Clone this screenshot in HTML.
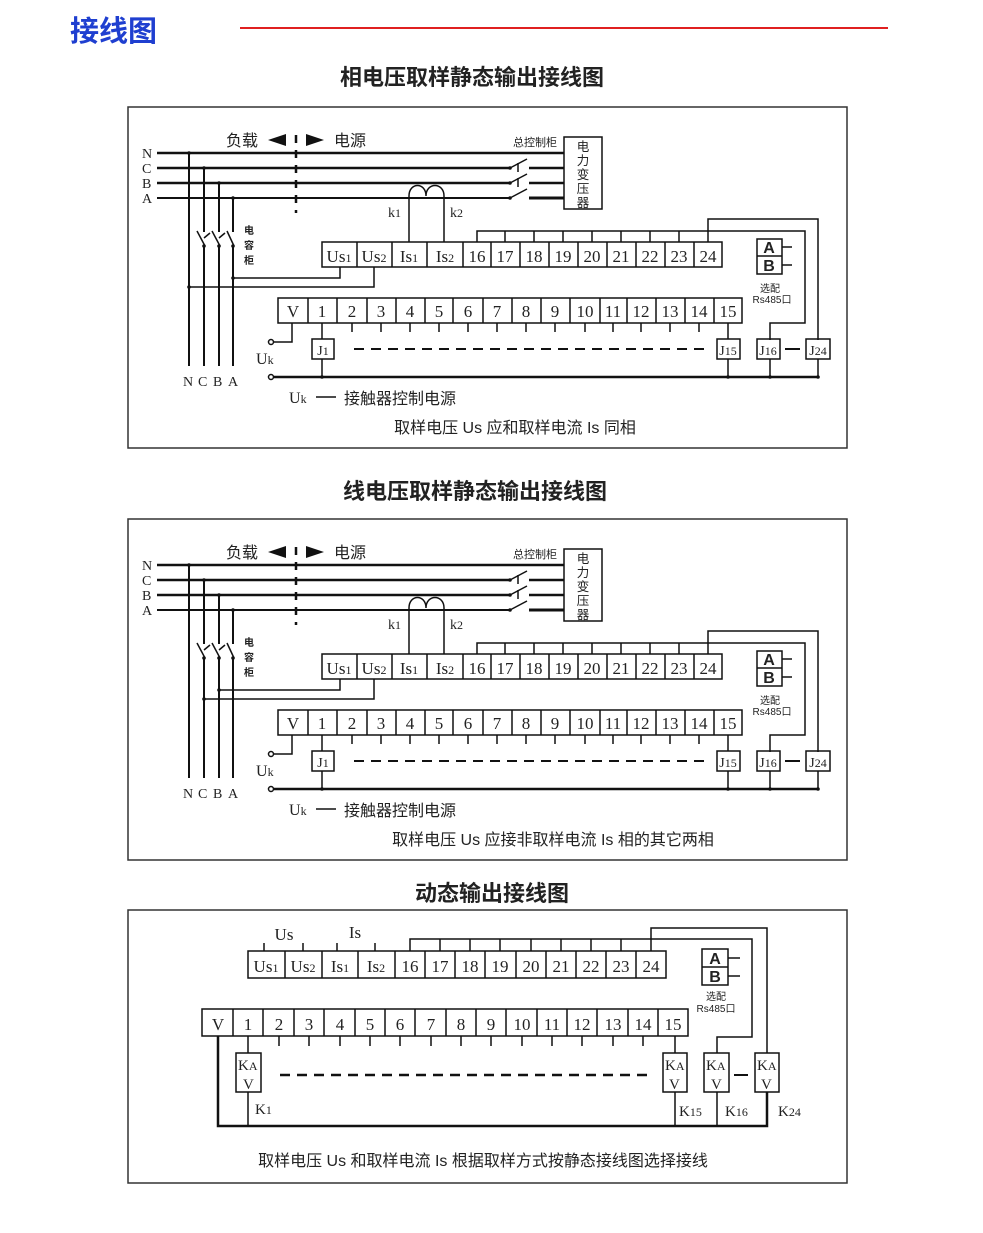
<!DOCTYPE html>
<html><head><meta charset="utf-8"><style>
html,body{margin:0;padding:0;background:#fff;}
svg{display:block;}
.s{font-family:"Liberation Serif","Noto Serif CJK SC",serif;font-size:17px;fill:#222;}
.c{font-family:"Liberation Sans","Noto Sans CJK SC",sans-serif;fill:#222;}
.sub{font-size:12px;}
</style></head><body>
<svg width="983" height="1233" viewBox="0 0 983 1233" xmlns="http://www.w3.org/2000/svg">
<text x="70" y="41" class="c" style="font-size:29px;font-weight:bold;fill:#1f3fd0">接线图</text>
<line x1="240" y1="28" x2="888" y2="28" stroke="#e02020" stroke-width="2"/>

<text x="472" y="85" text-anchor="middle" class="c" style="font-size:22px;font-weight:bold">相电压取样静态输出接线图</text>
<text x="475" y="499" text-anchor="middle" class="c" style="font-size:22px;font-weight:bold">线电压取样静态输出接线图</text>
<text x="492" y="901" text-anchor="middle" class="c" style="font-size:22px;font-weight:bold">动态输出接线图</text>

<rect x="128" y="107" width="719" height="341" fill="none" stroke="#333" stroke-width="1.5"/>
<rect x="128" y="519" width="719" height="341" fill="none" stroke="#333" stroke-width="1.5"/>
<rect x="128" y="910" width="719" height="273" fill="none" stroke="#333" stroke-width="1.5"/>

<!-- PANEL 1 & 2 shared via duplication -->
<g id="p1">
<g stroke="#111" fill="none">
<line x1="157" y1="153" x2="564" y2="153" stroke-width="2.5"/>
<line x1="157" y1="168" x2="510" y2="168" stroke-width="2.5"/>
<line x1="157" y1="183" x2="510" y2="183" stroke-width="2.5"/>
<line x1="157" y1="198" x2="510" y2="198" stroke-width="2"/>
<line x1="510" y1="168" x2="527" y2="159" stroke-width="1.5"/>
<line x1="518" y1="163" x2="518" y2="172" stroke-width="1.5"/>
<line x1="510" y1="183" x2="527" y2="174" stroke-width="1.5"/>
<line x1="518" y1="178" x2="518" y2="187" stroke-width="1.5"/>
<line x1="510" y1="198" x2="527" y2="189" stroke-width="1.5"/>
<line x1="529" y1="168" x2="564" y2="168" stroke-width="2.5"/>
<line x1="529" y1="183" x2="564" y2="183" stroke-width="2.5"/>
<line x1="529" y1="198" x2="564" y2="198" stroke-width="3"/>
<rect x="564" y="137" width="38" height="72" stroke-width="1.5"/>
<line x1="296" y1="135" x2="296" y2="213" stroke-width="2.5" stroke-dasharray="8,7"/>
<!-- drops -->
<line x1="189" y1="153" x2="189" y2="366" stroke-width="2"/>
<line x1="204" y1="168" x2="204" y2="232" stroke-width="2"/>
<line x1="219" y1="183" x2="219" y2="232" stroke-width="2"/>
<line x1="233" y1="198" x2="233" y2="232" stroke-width="2"/>
<line x1="197" y1="231" x2="205" y2="246" stroke-width="1.5"/>
<line x1="204" y1="238" x2="210" y2="233" stroke-width="1.5"/>
<line x1="212" y1="231" x2="220" y2="246" stroke-width="1.5"/>
<line x1="219" y1="238" x2="225" y2="233" stroke-width="1.5"/>
<line x1="227" y1="231" x2="234" y2="246" stroke-width="1.5"/>
<line x1="204" y1="246" x2="204" y2="366" stroke-width="2"/>
<line x1="219" y1="246" x2="219" y2="366" stroke-width="2"/>
<line x1="233" y1="246" x2="233" y2="366" stroke-width="2"/>
<!-- CT -->
<path d="M409,242 V196 C409,182 426,182 426,196 C426,182 444,182 444,196 V242" stroke-width="1.5"/>
<!-- top row -->
<rect x="322" y="242" width="400" height="25" stroke-width="1.5"/>
<path d="M357,242V267M392,242V267M427,242V267M463,242V267M491,242V267M520,242V267M549,242V267M578,242V267M607,242V267M636,242V267M665,242V267M694,242V267" stroke-width="1.5"/>
<!-- bus -->
<path d="M477,242V231H805V323H770V340" stroke-width="1.5"/>
<path d="M505,231V242M534,231V242M563,231V242M592,231V242M621,231V242M650,231V242M679,231V242" stroke-width="1.5"/>
<path d="M708,242V219H818V340" stroke-width="1.5"/>
<!-- AB -->
<rect x="757" y="239" width="25" height="35" stroke-width="1.5"/>
<line x1="757" y1="256" x2="782" y2="256" stroke-width="1.5"/>
<line x1="782" y1="247" x2="792" y2="247" stroke-width="1.5"/>
<line x1="782" y1="265" x2="792" y2="265" stroke-width="1.5"/>
<!-- bottom row -->
<rect x="278" y="298" width="464" height="25" stroke-width="1.5"/>
<path d="M308,298V323M337,298V323M367,298V323M396,298V323M425,298V323M453,298V323M483,298V323M512,298V323M541,298V323M570,298V323M600,298V323M627,298V323M656,298V323M685,298V323M714,298V323" stroke-width="1.5"/>
<path d="M352,323V332M381,323V332M410,323V332M439,323V332M468,323V332M497,323V332M526,323V332M555,323V332M585,323V332M613,323V332M641,323V332M670,323V332M699,323V332" stroke-width="1.5"/>
<path d="M292,323V342H273" stroke-width="1.5"/>
<circle cx="271" cy="342" r="2.5" stroke-width="1.5"/>
<circle cx="271" cy="377" r="2.5" stroke-width="1.5"/>
<line x1="274" y1="377" x2="819" y2="377" stroke-width="2.5"/>
<path d="M322,323V339M322,359V377M728,323V339M728,359V377M770,359V377M818,359V377" stroke-width="1.5"/>
<rect x="312" y="339" width="22" height="20" stroke-width="1.5"/>
<rect x="717" y="339" width="23" height="20" stroke-width="1.5"/>
<rect x="757" y="339" width="23" height="20" stroke-width="1.5"/>
<rect x="806" y="339" width="24" height="20" stroke-width="1.5"/>
<line x1="785" y1="349" x2="800" y2="349" stroke-width="2"/>
<line x1="354" y1="349" x2="705" y2="349" stroke-width="2" stroke-dasharray="10,7"/>
</g>
<g fill="#111">
<circle cx="189" cy="153" r="1.8"/><circle cx="204" cy="168" r="1.8"/><circle cx="219" cy="183" r="1.8"/><circle cx="233" cy="198" r="1.8"/>
<circle cx="204" cy="246" r="1.8"/><circle cx="219" cy="246" r="1.8"/><circle cx="233" cy="246" r="1.8"/>
<circle cx="510" cy="168" r="1.8"/><circle cx="510" cy="183" r="1.8"/><circle cx="510" cy="198" r="1.8"/>
<circle cx="322" cy="377" r="1.8"/><circle cx="728" cy="377" r="1.8"/><circle cx="770" cy="377" r="1.8"/><circle cx="818" cy="377" r="1.8"/>
<path d="M268,140 L286,134 L286,146Z"/><path d="M306,134 L324,140 L306,146Z"/>
</g>
<g class="s" style="font-size:14px">
<text x="142" y="158">N</text><text x="142" y="173">C</text><text x="142" y="188">B</text><text x="142" y="203">A</text>
<text x="183" y="386">N</text><text x="198" y="386">C</text><text x="213" y="386">B</text><text x="228" y="386">A</text>
<text x="388" y="217">k<tspan class="sub">1</tspan></text><text x="450" y="217">k<tspan class="sub">2</tspan></text>
</g>
<text x="226" y="146" class="c" style="font-size:16px">负载</text>
<text x="334" y="146" class="c" style="font-size:16px">电源</text>
<text x="513" y="146" class="c" style="font-size:11px">总控制柜</text>
<g class="c" style="font-size:12.5px" text-anchor="middle">
<text x="583" y="151">电</text><text x="583" y="165">力</text><text x="583" y="179">变</text><text x="583" y="193">压</text><text x="583" y="207">器</text>
</g>
<g class="c" style="font-size:10px;font-weight:bold" text-anchor="middle">
<text x="249" y="234">电</text><text x="249" y="249">容</text><text x="249" y="264">柜</text>
</g>
<g class="s" text-anchor="middle">
<text x="339" y="262">Us<tspan class="sub">1</tspan></text><text x="374" y="262">Us<tspan class="sub">2</tspan></text>
<text x="409" y="262">Is<tspan class="sub">1</tspan></text><text x="445" y="262">Is<tspan class="sub">2</tspan></text>
<text x="477" y="262">16</text><text x="505" y="262">17</text><text x="534" y="262">18</text><text x="563" y="262">19</text><text x="592" y="262">20</text><text x="621" y="262">21</text><text x="650" y="262">22</text><text x="679" y="262">23</text><text x="708" y="262">24</text>
<text x="293" y="317">V</text><text x="322" y="317">1</text><text x="352" y="317">2</text><text x="381" y="317">3</text><text x="410" y="317">4</text><text x="439" y="317">5</text><text x="468" y="317">6</text><text x="497" y="317">7</text><text x="526" y="317">8</text><text x="555" y="317">9</text><text x="585" y="317">10</text><text x="613" y="317">11</text><text x="641" y="317">12</text><text x="670" y="317">13</text><text x="699" y="317">14</text><text x="728" y="317">15</text>
</g>
<g class="s" style="font-size:14px" text-anchor="middle">
<text x="323" y="355">J<tspan class="sub">1</tspan></text><text x="728" y="355">J<tspan class="sub">15</tspan></text><text x="768" y="355">J<tspan class="sub">16</tspan></text><text x="818" y="355">J<tspan class="sub">24</tspan></text>
</g>
<g class="c" style="font-size:16px;font-weight:bold" text-anchor="middle">
<text x="769" y="253">A</text><text x="769" y="271">B</text>
</g>
<text x="770" y="292" class="c" style="font-size:10px" text-anchor="middle">选配</text>
<text x="772" y="303" class="c" style="font-size:10px" text-anchor="middle">Rs485口</text>
<text x="256" y="364" class="s" style="font-size:16px">U<tspan class="sub">k</tspan></text>
<text x="289" y="403" class="s" style="font-size:16px">U<tspan class="sub">k</tspan></text>
<line x1="316" y1="397" x2="336" y2="397" stroke="#111" stroke-width="1.5"/>
<text x="344" y="404" class="c" style="font-size:16px">接触器控制电源</text>
</g>
<!-- panel 1 specific -->
<g stroke="#111" fill="none" stroke-width="1.5">
<path d="M340,267V278H233M374,267V287H189"/>
</g>
<g fill="#111"><circle cx="233" cy="278" r="1.8"/><circle cx="189" cy="287" r="1.8"/></g>
<text x="515" y="433" text-anchor="middle" class="c" style="font-size:16px">取样电压 Us 应和取样电流 Is 同相</text>

<!-- PANEL 2 -->
<g transform="translate(0,412)">
<g stroke="#111" fill="none">
<line x1="157" y1="153" x2="564" y2="153" stroke-width="2.5"/>
<line x1="157" y1="168" x2="510" y2="168" stroke-width="2.5"/>
<line x1="157" y1="183" x2="510" y2="183" stroke-width="2.5"/>
<line x1="157" y1="198" x2="510" y2="198" stroke-width="2"/>
<line x1="510" y1="168" x2="527" y2="159" stroke-width="1.5"/>
<line x1="518" y1="163" x2="518" y2="172" stroke-width="1.5"/>
<line x1="510" y1="183" x2="527" y2="174" stroke-width="1.5"/>
<line x1="518" y1="178" x2="518" y2="187" stroke-width="1.5"/>
<line x1="510" y1="198" x2="527" y2="189" stroke-width="1.5"/>
<line x1="529" y1="168" x2="564" y2="168" stroke-width="2.5"/>
<line x1="529" y1="183" x2="564" y2="183" stroke-width="2.5"/>
<line x1="529" y1="198" x2="564" y2="198" stroke-width="3"/>
<rect x="564" y="137" width="38" height="72" stroke-width="1.5"/>
<line x1="296" y1="135" x2="296" y2="213" stroke-width="2.5" stroke-dasharray="8,7"/>
<line x1="189" y1="153" x2="189" y2="366" stroke-width="2"/>
<line x1="204" y1="168" x2="204" y2="232" stroke-width="2"/>
<line x1="219" y1="183" x2="219" y2="232" stroke-width="2"/>
<line x1="233" y1="198" x2="233" y2="232" stroke-width="2"/>
<line x1="197" y1="231" x2="205" y2="246" stroke-width="1.5"/>
<line x1="204" y1="238" x2="210" y2="233" stroke-width="1.5"/>
<line x1="212" y1="231" x2="220" y2="246" stroke-width="1.5"/>
<line x1="219" y1="238" x2="225" y2="233" stroke-width="1.5"/>
<line x1="227" y1="231" x2="234" y2="246" stroke-width="1.5"/>
<line x1="204" y1="246" x2="204" y2="366" stroke-width="2"/>
<line x1="219" y1="246" x2="219" y2="366" stroke-width="2"/>
<line x1="233" y1="246" x2="233" y2="366" stroke-width="2"/>
<path d="M409,242 V196 C409,182 426,182 426,196 C426,182 444,182 444,196 V242" stroke-width="1.5"/>
<rect x="322" y="242" width="400" height="25" stroke-width="1.5"/>
<path d="M357,242V267M392,242V267M427,242V267M463,242V267M491,242V267M520,242V267M549,242V267M578,242V267M607,242V267M636,242V267M665,242V267M694,242V267" stroke-width="1.5"/>
<path d="M477,242V231H805V323H770V340" stroke-width="1.5"/>
<path d="M505,231V242M534,231V242M563,231V242M592,231V242M621,231V242M650,231V242M679,231V242" stroke-width="1.5"/>
<path d="M708,242V219H818V340" stroke-width="1.5"/>
<rect x="757" y="239" width="25" height="35" stroke-width="1.5"/>
<line x1="757" y1="256" x2="782" y2="256" stroke-width="1.5"/>
<line x1="782" y1="247" x2="792" y2="247" stroke-width="1.5"/>
<line x1="782" y1="265" x2="792" y2="265" stroke-width="1.5"/>
<rect x="278" y="298" width="464" height="25" stroke-width="1.5"/>
<path d="M308,298V323M337,298V323M367,298V323M396,298V323M425,298V323M453,298V323M483,298V323M512,298V323M541,298V323M570,298V323M600,298V323M627,298V323M656,298V323M685,298V323M714,298V323" stroke-width="1.5"/>
<path d="M352,323V332M381,323V332M410,323V332M439,323V332M468,323V332M497,323V332M526,323V332M555,323V332M585,323V332M613,323V332M641,323V332M670,323V332M699,323V332" stroke-width="1.5"/>
<path d="M292,323V342H273" stroke-width="1.5"/>
<circle cx="271" cy="342" r="2.5" stroke-width="1.5"/>
<circle cx="271" cy="377" r="2.5" stroke-width="1.5"/>
<line x1="274" y1="377" x2="819" y2="377" stroke-width="2.5"/>
<path d="M322,323V339M322,359V377M728,323V339M728,359V377M770,359V377M818,359V377" stroke-width="1.5"/>
<rect x="312" y="339" width="22" height="20" stroke-width="1.5"/>
<rect x="717" y="339" width="23" height="20" stroke-width="1.5"/>
<rect x="757" y="339" width="23" height="20" stroke-width="1.5"/>
<rect x="806" y="339" width="24" height="20" stroke-width="1.5"/>
<line x1="785" y1="349" x2="800" y2="349" stroke-width="2"/>
<line x1="354" y1="349" x2="705" y2="349" stroke-width="2" stroke-dasharray="10,7"/>
<path d="M340,267V278H219M374,267V287H204" stroke-width="1.5"/>
</g>
<g fill="#111">
<circle cx="189" cy="153" r="1.8"/><circle cx="204" cy="168" r="1.8"/><circle cx="219" cy="183" r="1.8"/><circle cx="233" cy="198" r="1.8"/>
<circle cx="204" cy="246" r="1.8"/><circle cx="219" cy="246" r="1.8"/><circle cx="233" cy="246" r="1.8"/>
<circle cx="510" cy="168" r="1.8"/><circle cx="510" cy="183" r="1.8"/><circle cx="510" cy="198" r="1.8"/>
<circle cx="322" cy="377" r="1.8"/><circle cx="728" cy="377" r="1.8"/><circle cx="770" cy="377" r="1.8"/><circle cx="818" cy="377" r="1.8"/>
<circle cx="219" cy="278" r="1.8"/><circle cx="204" cy="287" r="1.8"/>
<path d="M268,140 L286,134 L286,146Z"/><path d="M306,134 L324,140 L306,146Z"/>
</g>
<g class="s" style="font-size:14px">
<text x="142" y="158">N</text><text x="142" y="173">C</text><text x="142" y="188">B</text><text x="142" y="203">A</text>
<text x="183" y="386">N</text><text x="198" y="386">C</text><text x="213" y="386">B</text><text x="228" y="386">A</text>
<text x="388" y="217">k<tspan class="sub">1</tspan></text><text x="450" y="217">k<tspan class="sub">2</tspan></text>
</g>
<text x="226" y="146" class="c" style="font-size:16px">负载</text>
<text x="334" y="146" class="c" style="font-size:16px">电源</text>
<text x="513" y="146" class="c" style="font-size:11px">总控制柜</text>
<g class="c" style="font-size:12.5px" text-anchor="middle">
<text x="583" y="151">电</text><text x="583" y="165">力</text><text x="583" y="179">变</text><text x="583" y="193">压</text><text x="583" y="207">器</text>
</g>
<g class="c" style="font-size:10px;font-weight:bold" text-anchor="middle">
<text x="249" y="234">电</text><text x="249" y="249">容</text><text x="249" y="264">柜</text>
</g>
<g class="s" text-anchor="middle">
<text x="339" y="262">Us<tspan class="sub">1</tspan></text><text x="374" y="262">Us<tspan class="sub">2</tspan></text>
<text x="409" y="262">Is<tspan class="sub">1</tspan></text><text x="445" y="262">Is<tspan class="sub">2</tspan></text>
<text x="477" y="262">16</text><text x="505" y="262">17</text><text x="534" y="262">18</text><text x="563" y="262">19</text><text x="592" y="262">20</text><text x="621" y="262">21</text><text x="650" y="262">22</text><text x="679" y="262">23</text><text x="708" y="262">24</text>
<text x="293" y="317">V</text><text x="322" y="317">1</text><text x="352" y="317">2</text><text x="381" y="317">3</text><text x="410" y="317">4</text><text x="439" y="317">5</text><text x="468" y="317">6</text><text x="497" y="317">7</text><text x="526" y="317">8</text><text x="555" y="317">9</text><text x="585" y="317">10</text><text x="613" y="317">11</text><text x="641" y="317">12</text><text x="670" y="317">13</text><text x="699" y="317">14</text><text x="728" y="317">15</text>
</g>
<g class="s" style="font-size:14px" text-anchor="middle">
<text x="323" y="355">J<tspan class="sub">1</tspan></text><text x="728" y="355">J<tspan class="sub">15</tspan></text><text x="768" y="355">J<tspan class="sub">16</tspan></text><text x="818" y="355">J<tspan class="sub">24</tspan></text>
</g>
<g class="c" style="font-size:16px;font-weight:bold" text-anchor="middle">
<text x="769" y="253">A</text><text x="769" y="271">B</text>
</g>
<text x="770" y="292" class="c" style="font-size:10px" text-anchor="middle">选配</text>
<text x="772" y="303" class="c" style="font-size:10px" text-anchor="middle">Rs485口</text>
<text x="256" y="364" class="s" style="font-size:16px">U<tspan class="sub">k</tspan></text>
<text x="289" y="403" class="s" style="font-size:16px">U<tspan class="sub">k</tspan></text>
<line x1="316" y1="397" x2="336" y2="397" stroke="#111" stroke-width="1.5"/>
<text x="344" y="404" class="c" style="font-size:16px">接触器控制电源</text>
<text x="553" y="433" text-anchor="middle" class="c" style="font-size:16px">取样电压 Us 应接非取样电流 Is 相的其它两相</text>
</g>

<!-- PANEL 3 -->
<g stroke="#111" fill="none" stroke-width="1.5">
<rect x="248" y="951" width="418" height="27"/>
<path d="M285,951V978M322,951V978M358,951V978M395,951V978M425,951V978M455,951V978M485,951V978M516,951V978M546,951V978M576,951V978M606,951V978M636,951V978"/>
<path d="M264,943V951M303,943V951M337,943V951M375,943V951"/>
<path d="M410,951V939H752V1037H717V1053"/>
<path d="M440,939V951M470,939V951M500,939V951M531,939V951M561,939V951M591,939V951M621,939V951"/>
<path d="M651,951V928H767V1053"/>
<rect x="702" y="949" width="26" height="36"/>
<line x1="702" y1="967" x2="728" y2="967"/>
<line x1="728" y1="958" x2="740" y2="958"/><line x1="728" y1="976" x2="740" y2="976"/>
<rect x="202" y="1009" width="486" height="27"/>
<path d="M233,1009V1036M263,1009V1036M294,1009V1036M324,1009V1036M355,1009V1036M385,1009V1036M415,1009V1036M446,1009V1036M476,1009V1036M506,1009V1036M537,1009V1036M567,1009V1036M597,1009V1036M628,1009V1036M658,1009V1036"/>
<path d="M279,1036V1046M309,1036V1046M340,1036V1046M370,1036V1046M400,1036V1046M431,1036V1046M461,1036V1046M491,1036V1046M522,1036V1046M552,1036V1046M582,1036V1046M613,1036V1046M643,1036V1046"/>
<path d="M218,1036V1126H767V1092" stroke-width="2.5"/>
<path d="M248,1036V1053M248,1092V1126M675,1036V1053M675,1092V1126M717,1092V1126"/>
<rect x="236" y="1053" width="25" height="39"/>
<rect x="663" y="1053" width="24" height="39"/>
<rect x="704" y="1053" width="25" height="39"/>
<rect x="755" y="1053" width="24" height="39"/>
<line x1="734" y1="1075" x2="748" y2="1075" stroke-width="2"/>
<line x1="280" y1="1075" x2="648" y2="1075" stroke-width="2.5" stroke-dasharray="10,7"/>
</g>
<g class="s" text-anchor="middle">
<text x="266" y="972">Us<tspan class="sub">1</tspan></text><text x="303" y="972">Us<tspan class="sub">2</tspan></text>
<text x="340" y="972">Is<tspan class="sub">1</tspan></text><text x="376" y="972">Is<tspan class="sub">2</tspan></text>
<text x="410" y="972">16</text><text x="440" y="972">17</text><text x="470" y="972">18</text><text x="500" y="972">19</text><text x="531" y="972">20</text><text x="561" y="972">21</text><text x="591" y="972">22</text><text x="621" y="972">23</text><text x="651" y="972">24</text>
<text x="218" y="1030">V</text><text x="248" y="1030">1</text><text x="279" y="1030">2</text><text x="309" y="1030">3</text><text x="340" y="1030">4</text><text x="370" y="1030">5</text><text x="400" y="1030">6</text><text x="431" y="1030">7</text><text x="461" y="1030">8</text><text x="491" y="1030">9</text><text x="522" y="1030">10</text><text x="552" y="1030">11</text><text x="582" y="1030">12</text><text x="613" y="1030">13</text><text x="643" y="1030">14</text><text x="673" y="1030">15</text>
<text x="284" y="940">Us</text><text x="355" y="938">Is</text>
</g>
<g class="s" style="font-size:15px">
<text x="238" y="1070">K<tspan class="sub">A</tspan></text><text x="243" y="1089">V</text>
<text x="665" y="1070">K<tspan class="sub">A</tspan></text><text x="669" y="1089">V</text>
<text x="706" y="1070">K<tspan class="sub">A</tspan></text><text x="711" y="1089">V</text>
<text x="757" y="1070">K<tspan class="sub">A</tspan></text><text x="761" y="1089">V</text>
<text x="255" y="1114">K<tspan class="sub">1</tspan></text>
<text x="679" y="1116">K<tspan class="sub">15</tspan></text>
<text x="725" y="1116">K<tspan class="sub">16</tspan></text>
<text x="778" y="1116">K<tspan class="sub">24</tspan></text>
</g>
<g class="c" style="font-size:16px;font-weight:bold" text-anchor="middle">
<text x="715" y="964">A</text><text x="715" y="982">B</text>
</g>
<text x="716" y="1000" class="c" style="font-size:10px" text-anchor="middle">选配</text>
<text x="716" y="1012" class="c" style="font-size:10px" text-anchor="middle">Rs485口</text>
<text x="483" y="1166" text-anchor="middle" class="c" style="font-size:16px">取样电压 Us 和取样电流 Is 根据取样方式按静态接线图选择接线</text>
</svg>
</body></html>
